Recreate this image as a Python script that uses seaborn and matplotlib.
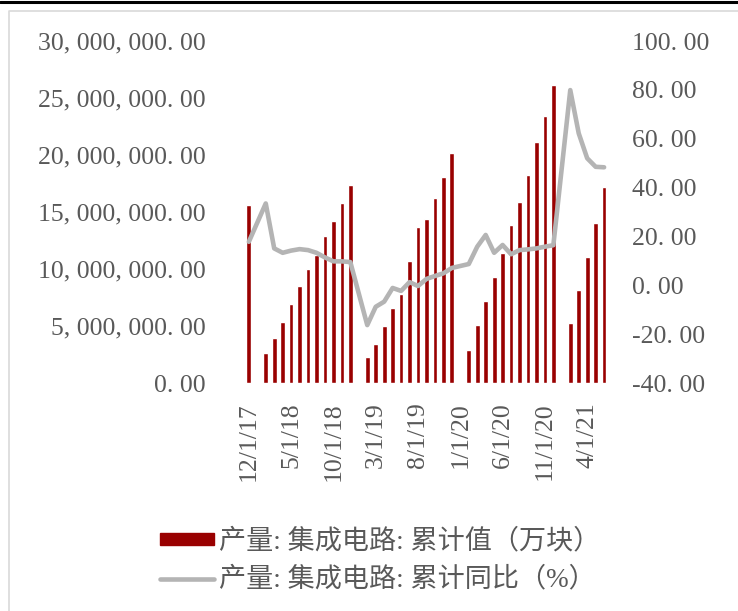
import numpy as np
import pandas as pd
import seaborn as sns
import matplotlib.pyplot as plt
from matplotlib.lines import Line2D
from matplotlib.patches import Patch

# 月份 2017-12 ~ 2021-06
months = pd.date_range("2017-12-01", "2021-06-01", freq="MS")
month_labels = [f"{d.month}/1/{d.year % 100}" for d in months]

# 产量: 集成电路: 累计值（万块）
ic_cum = [
    15650000, np.nan, 2630000, 3950000, 5350000, 6930000, 8510000, 10000000,
    11230000, 12900000, 14200000, 15800000, 17390000,
    np.nan, 2280000, 3420000, 5000000, 6580000, 7800000, 10700000,
    13680000, 14400000, 16200000, 18070000, 20200000,
    np.nan, 2900000, 5090000, 7190000, 9300000, 11400000, 13860000,
    15880000, 18250000, 21140000, 23420000, 26140000,
    np.nan, 5260000, 8160000, 11050000, 14040000, 17200000,
]
# 产量: 集成电路: 累计同比（%）
ic_yoy = [
    17.8, np.nan, 33.5, 15.1, 13.3, 14.2, 14.8, 14.4, 13.3, 11.4, 9.8, 9.8, 9.5,
    np.nan, -16.3, -8.8, -6.7, -1.1, -2.3, 1.3, -0.3, 2.6, 3.8, 4.9, 7.1,
    np.nan, 8.7, 15.8, 20.6, 13.3, 16.5, 12.7, 14.4, 14.7, 15.1, 15.8, 16.4,
    np.nan, 79.9, 62.2, 52.0, 48.5, 48.3,
]

BAR_LABEL = "产量: 集成电路: 累计值（万块）"
LINE_LABEL = "产量: 集成电路: 累计同比（%）"
RED = "#990000"
GREY = "#b4b4b4"
TXT = "#595959"

sns.set_style("white")
plt.rcParams["font.family"] = ["Liberation Serif", "Noto Sans CJK SC", "DejaVu Sans"]

df = pd.DataFrame({"month": month_labels, "pos": np.arange(len(month_labels)),
                   "value": ic_cum, "yoy": ic_yoy})

fig = plt.figure(figsize=(7.38, 6.11), dpi=100)
ax = fig.add_axes([215 / 738, 1 - 383 / 611, 410 / 738, 342 / 611])

sns.barplot(data=df, x="month", y="value", order=month_labels, color=RED,
            saturation=1, width=0.56, errorbar=None, ax=ax)
ax.set_xlim(-4, 44.47)
ax.set_ylim(0, 30000000)
ax.set_yticks(np.arange(0, 30000001, 5000000))
ax.set_yticklabels([f"{v:,.2f}".replace(",", ", ").replace(".", ". ") for v in ax.get_yticks()])
ticks = list(range(0, len(month_labels), 5))
ax.set_xticks(ticks)
ax.set_xticklabels([month_labels[i] for i in ticks], rotation=90, va="top", ha="center")
ax.set_xlabel("")
ax.set_ylabel("")

ax2 = ax.twinx()
sns.lineplot(data=df.dropna(subset=["yoy"]), x="pos", y="yoy", color=GREY,
             linewidth=3.3, ax=ax2)
ax2.set_ylim(-40, 100)
ax2.set_yticks(np.arange(-40, 101, 20))
ax2.set_yticklabels([f"{v:.2f}".replace(".", ". ") for v in ax2.get_yticks()])
ax2.set_ylabel("")

for a in (ax, ax2):
    for s in a.spines.values():
        s.set_visible(False)
    a.tick_params(length=0, labelsize=18.5, colors=TXT)
ax.tick_params(axis="x", pad=14)
ax.tick_params(axis="y", pad=7)
ax2.tick_params(axis="y", pad=5)

handles = [Patch(facecolor=RED, edgecolor=RED),
           Line2D([], [], color=GREY, linewidth=3.3)]
fig.legend(handles, [BAR_LABEL, LINE_LABEL], loc="center",
           bbox_to_anchor=(0.515, 0.082), frameon=False, fontsize=19.5,
           handlelength=2.0, handleheight=0.3, handletextpad=0.2,
           labelspacing=0.45, labelcolor=TXT)

# 边框
fig.add_artist(Line2D([0, 1], [1 - 1.5 / 611] * 2, color="black", linewidth=2.2,
                      transform=fig.transFigure))
fig.add_artist(Line2D([9 / 738, 9 / 738, 1], [0, 1 - 10.5 / 611, 1 - 10.5 / 611],
                      color="#d9d9d9", linewidth=1.2, transform=fig.transFigure))

fig.savefig("out.png", dpi=100)
